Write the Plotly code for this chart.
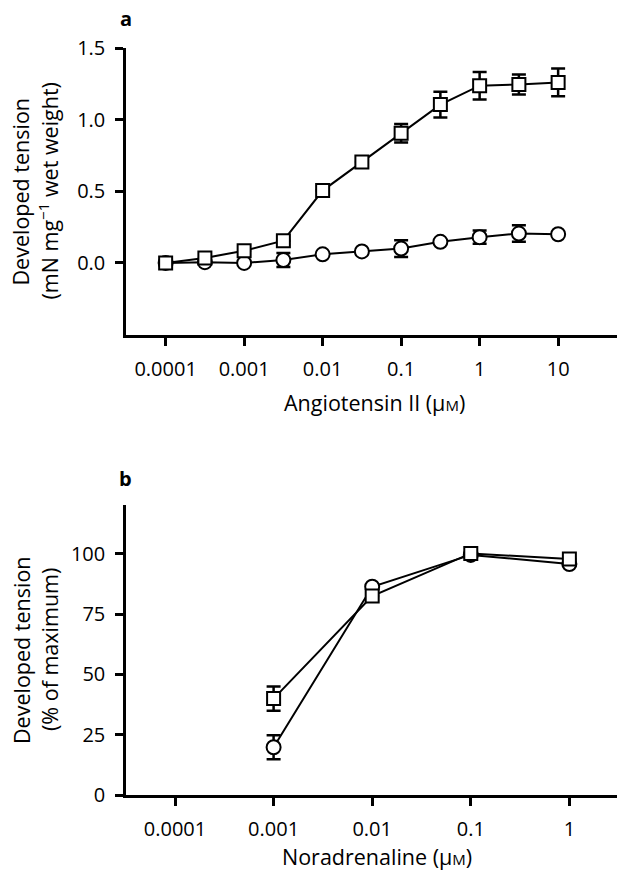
import plotly.graph_objects as go

# ---- data (panel a: Angiotensin II) ----
conc_a = [0.0001, 0.0003162, 0.001, 0.003162, 0.01, 0.03162, 0.1, 0.3162, 1, 3.162, 10]
square_a = [0.0, 0.035, 0.085, 0.155, 0.505, 0.705, 0.905, 1.105, 1.237, 1.245, 1.26]
square_a_err = [0, 0, 0, 0, 0, 0, 0.065, 0.09, 0.096, 0.07, 0.097]
circle_a = [0.0, 0.005, 0.0, 0.02, 0.06, 0.08, 0.10, 0.147, 0.18, 0.205, 0.20]
circle_a_err = [0, 0, 0, 0.049, 0, 0, 0.058, 0, 0.047, 0.058, 0]
xticks_a = [0.0001, 0.001, 0.01, 0.1, 1, 10]
xticktext_a = ["0.0001", "0.001", "0.01", "0.1", "1", "10"]
yticks_a = [0, 0.5, 1.0, 1.5]
yticktext_a = ["0.0", "0.5", "1.0", "1.5"]

# ---- data (panel b: Noradrenaline) ----
conc_b = [0.001, 0.01, 0.1, 1]
square_b = [40.0, 82.5, 100.2, 97.9]
square_b_err = [5, 0, 0, 0]
circle_b = [19.8, 86.4, 99.6, 95.8]
circle_b_err = [5, 0, 0, 0]
xticks_b = [0.0001, 0.001, 0.01, 0.1, 1]
xticktext_b = ["0.0001", "0.001", "0.01", "0.1", "1"]
yticks_b = [0, 25, 50, 75, 100]
yticktext_b = ["0", "25", "50", "75", "100"]

FONT = "Open Sans"
FS = 20
FT = 21.5
W, H = 617, 871
ML, MR, MT, MB = 126, 0, 48, 76
PW, PH = W - ML - MR, H - MT - MB


def px_x(p):
    return (p - ML) / PW


def px_y(p):
    return (H - MB - p) / PH


def trace(x, y, err, symbol, size, xa, ya):
    return go.Scatter(
        x=x, y=y, xaxis=xa, yaxis=ya, mode="lines+markers",
        line=dict(color="black", width=2),
        marker=dict(symbol=symbol, size=size, color="white",
                    line=dict(color="black", width=2)),
        error_y=dict(type="data", array=err, visible=True, color="black",
                     thickness=2.5, width=7),
        showlegend=False, hoverinfo="skip",
    )


fig = go.Figure()
fig.add_trace(trace(conc_a, circle_a, circle_a_err, "circle", 14, "x", "y"))
fig.add_trace(trace(conc_a, square_a, square_a_err, "square", 13, "x", "y"))
fig.add_trace(trace(conc_b, circle_b, circle_b_err, "circle", 14, "x2", "y2"))
fig.add_trace(trace(conc_b, square_b, square_b_err, "square", 13, "x2", "y2"))

axis_common = dict(
    showline=True, linecolor="black", linewidth=2.5, showgrid=False,
    zeroline=False, ticks="outside", ticklen=8, tickwidth=2.5,
    tickcolor="black", tickfont=dict(family=FONT, size=FS, color="black"),
)

top_a, bot_a = 48, 335
top_b, bot_b = 505, 795

fig.update_layout(
    width=W, height=H,
    margin=dict(l=ML, r=MR, t=MT, b=MB),
    paper_bgcolor="white", plot_bgcolor="white",
    font=dict(family=FONT, size=FS, color="black"),
    xaxis=dict(type="log", range=[-4.505, 1.75], domain=[0, 1], anchor="y",
               tickvals=xticks_a, ticktext=xticktext_a, ticklabelstandoff=6,
               **axis_common),
    yaxis=dict(range=[-0.503, 1.5], domain=[px_y(bot_a), px_y(top_a)], anchor="x",
               tickvals=yticks_a, ticktext=yticktext_a, ticklabelstandoff=6,
               **axis_common),
    xaxis2=dict(type="log", range=[-4.497, 0.483], domain=[0, 1], anchor="y2",
                tickvals=xticks_b, ticktext=xticktext_b, ticklabelstandoff=6,
                **axis_common),
    yaxis2=dict(range=[0, 120.3], domain=[px_y(bot_b), px_y(top_b)], anchor="x2",
                tickvals=yticks_b, ticktext=yticktext_b, ticklabelstandoff=6,
                **axis_common),
)

def ann(text, xp, yp, angle=0, bold=False, size=FT):
    fig.add_annotation(
        text=f"<b>{text}</b>" if bold else text,
        x=px_x(xp), y=px_y(yp), xref="paper", yref="paper",
        xanchor="center", yanchor="middle", showarrow=False, textangle=angle,
        font=dict(family=FONT, size=size, color="black"),
    )

# panel labels
ann("a", 125.5, 19, bold=True, size=20)
ann("b", 125.5, 478, bold=True, size=20)

# axis titles
mid_a = (top_a + bot_a) / 2
mid_b = (top_b + bot_b) / 2
ann("Developed tension", 20, mid_a, angle=-90)
ann("(mN mg<sup>−1</sup> wet weight)", 48, mid_a, angle=-90)
ann("Developed tension", 21, mid_b, angle=-90)
ann("(% of maximum)", 49, mid_b, angle=-90)
ann("Angiotensin II (µ<span style='font-size:15px'>M</span>)", 374, 402)
ann("Noradrenaline (µ<span style='font-size:15px'>M</span>)", 377, 857)

fig.write_html(
    "out.html",
    config={"displayModeBar": False},
    post_script="document.body.style.margin='0px';document.body.style.padding='0px';",
)
